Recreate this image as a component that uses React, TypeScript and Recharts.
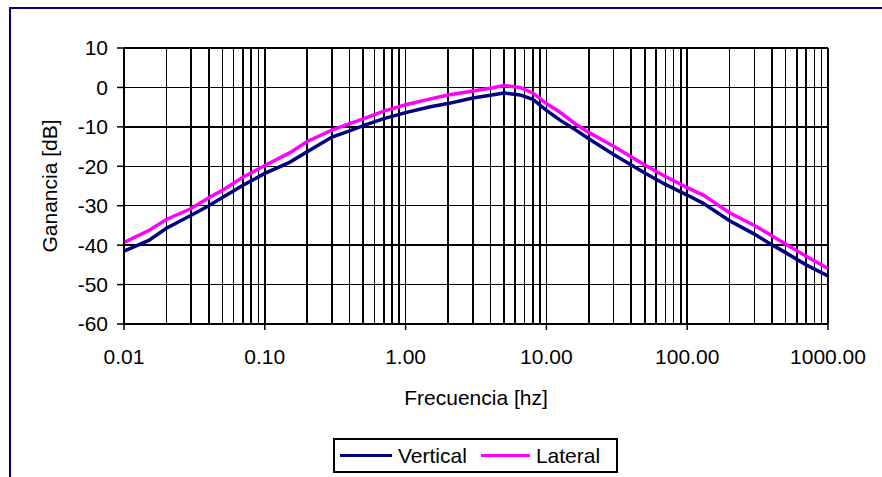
import {
    LineChart,
    Line,
    XAxis,
    YAxis,
    CartesianGrid,
    ReferenceLine,
    Legend,
    Label,
} from "recharts";

// frequency in Hz (log axis)
const frequencies = [
    0.01, 0.015, 0.02, 0.03, 0.04, 0.05, 0.07, 0.1, 0.15, 0.2, 0.3, 0.4, 0.5, 0.7,
    1, 1.5, 2, 3, 4, 5, 6.5, 8, 10, 12.5, 16, 20, 30, 50, 70, 100, 130, 200, 300,
    370, 500, 700, 1000,
];

const vertical = [
    -41.5, -38.8, -35.7, -32.4, -30.0, -27.9, -24.8, -21.8, -19.0, -16.3, -12.6, -11.0,
    -9.7, -7.9, -6.4, -4.9, -4.1, -2.7, -2.0, -1.4, -1.9, -3.0, -5.8, -8.3, -10.7,
    -13.0, -17.0, -21.7, -24.6, -27.3, -29.4, -33.8, -37.2, -39.2, -41.9, -45.0, -47.8,
];

const lateral = [
    -39.3, -36.3, -33.5, -30.7, -28.0, -26.1, -22.8, -19.8, -16.6, -13.7, -10.8, -9.2,
    -8.0, -6.0, -4.4, -2.9, -1.9, -0.9, -0.2, 0.5, 0.0, -1.4, -4.1, -6.3, -9.2, -11.4,
    -14.9, -19.7, -22.6, -25.4, -27.3, -31.8, -35.0, -36.9, -39.7, -42.8, -45.9,
];

const xTicks = [0.01, 0.1, 1, 10, 100, 1000];
const yTicks = [-60, -50, -40, -30, -20, -10, 0, 10];
const seriesNames = ["Vertical", "Lateral"];
const seriesColors = ["#000080", "#FF00FF"];

// log grid: 1..9 in every decade
const gridFreqs = xTicks
    .slice(0, -1)
    .flatMap((d) => [1, 2, 3, 4, 5, 6, 7, 8, 9].map((m) => Number((d * m).toPrecision(3))))
    .concat([1000]);

const data = frequencies.map((f, i) => ({
    f,
    vertical: vertical[i],
    lateral: lateral[i],
}));

const font = 'Arial, "Liberation Sans", sans-serif';

function LegendBox() {
    return (
        <div
            style={{
                boxSizing: "border-box",
                width: 285,
                height: 35,
                border: "2px solid #000",
                background: "#fff",
                display: "flex",
                alignItems: "center",
                fontFamily: font,
                fontSize: 21,
                color: "#000",
                paddingLeft: 5,
            }}
        >
            {seriesNames.map((name, i) => (
                <div key={name} style={{ display: "flex", alignItems: "center", marginRight: 14 }}>
                    <span
                        style={{
                            display: "inline-block",
                            width: i === 0 ? 52 : 49,
                            height: 3,
                            background: seriesColors[i],
                            marginRight: 6,
                        }}
                    />
                    <span>{name}</span>
                </div>
            ))}
        </div>
    );
}

export default function App() {
    return (
        <div style={{ position: "absolute", left: 0, top: 0, width: 882, height: 477, background: "#fff", overflow: "hidden" }}>
            <div
                style={{
                    position: "absolute",
                    left: 9,
                    top: 7,
                    width: 900,
                    height: 500,
                    border: "2px solid #000080",
                }}
            />
            <LineChart
                width={882}
                height={477}
                data={data}
                margin={{ top: 48, right: 54, left: 64, bottom: 113 }}
                style={{ position: "absolute", left: 0, top: 0, fontFamily: font }}
            >
                <CartesianGrid vertical={false} stroke="#000" strokeWidth={1.5} shapeRendering="crispEdges" />
                {gridFreqs.map((g) => (
                    <ReferenceLine key={g} x={g} stroke="#000" strokeWidth={1.5} shapeRendering="crispEdges" />
                ))}
                <XAxis
                    dataKey="f"
                    type="number"
                    scale="log"
                    domain={[0.01, 1000]}
                    ticks={xTicks}
                    allowDataOverflow
                    height={40}
                    stroke="#000"
                    strokeWidth={1.5}
                    tickSize={6}
                    tickMargin={19}
                    tick={{ fill: "#000", fontSize: 21 }}
                    tickFormatter={(v: number) => v.toFixed(2)}
                >
                    <Label
                        value="Frecuencia [hz]"
                        position="bottom"
                        offset={26}
                        style={{ fill: "#000", fontSize: 21 }}
                    />
                </XAxis>
                <YAxis
                    type="number"
                    domain={[-60, 10]}
                    ticks={yTicks}
                    width={60}
                    stroke="#000"
                    strokeWidth={1.5}
                    tickSize={7}
                    tickMargin={9}
                    tick={{ fill: "#000", fontSize: 21 }}
                >
                    <Label
                        content={(props: any) => {
                            const vb = props.viewBox || {};
                            const cx = vb.x - 14;
                            const cy = vb.y + vb.height / 2;
                            return (
                                <text
                                    x={cx}
                                    y={cy}
                                    transform={`rotate(-90, ${cx}, ${cy})`}
                                    textAnchor="middle"
                                    dy="0.355em"
                                    fill="#000"
                                    fontSize={21}
                                    fontFamily={font}
                                >
                                    Ganancia [dB]
                                </text>
                            );
                        }}
                    />
                </YAxis>
                <Line
                    type="linear"
                    dataKey="vertical"
                    name={seriesNames[0]}
                    stroke={seriesColors[0]}
                    strokeWidth={3.5}
                    dot={false}
                    isAnimationActive={false}
                />
                <Line
                    type="linear"
                    dataKey="lateral"
                    name={seriesNames[1]}
                    stroke={seriesColors[1]}
                    strokeWidth={3.5}
                    dot={false}
                    isAnimationActive={false}
                />
                <Legend
                    layout="horizontal"
                    verticalAlign="middle"
                    align="center"
                    wrapperStyle={{ left: 333, top: 438, width: 285, height: 35 }}
                    content={() => <LegendBox />}
                />
            </LineChart>
        </div>
    );
}
